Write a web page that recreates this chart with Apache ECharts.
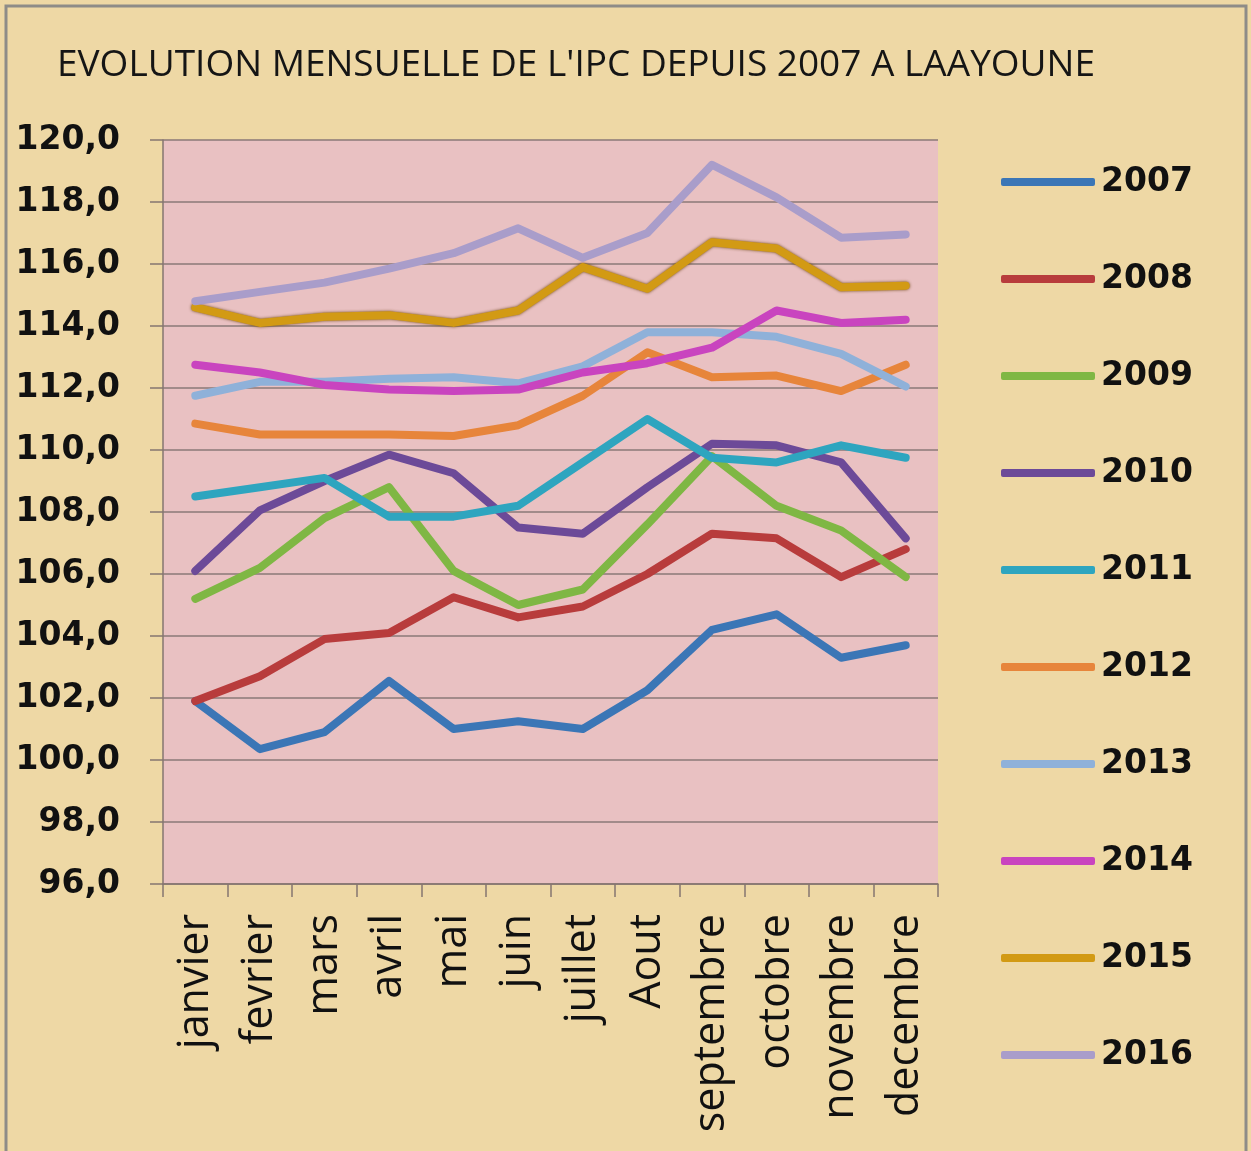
<!DOCTYPE html>
<html>
<head>
<meta charset="utf-8">
<script src="https://cdn.jsdelivr.net/npm/echarts@6/dist/echarts.min.js"></script>
<style>
  html, body { margin: 0; padding: 0; background: #eed8a5; }
  #main { width: 1251px; height: 1151px; }
</style>
</head>
<body>
<div id="main"></div>
<script>
// mois (axe X)
const mois = ['janvier', 'fevrier', 'mars', 'avril', 'mai', 'juin', 'juillet', 'Aout', 'septembre', 'octobre', 'novembre', 'decembre'];

// IPC mensuel par année
const ipc2007 = [101.9, 100.35, 100.9, 102.55, 101.0, 101.25, 101.0, 102.25, 104.2, 104.7, 103.3, 103.7];
const ipc2008 = [101.9, 102.7, 103.9, 104.1, 105.25, 104.6, 104.95, 106.0, 107.3, 107.15, 105.9, 106.8];
const ipc2009 = [105.2, 106.2, 107.8, 108.8, 106.1, 105.0, 105.5, 107.6, 109.8, 108.2, 107.4, 105.9];
const ipc2010 = [106.1, 108.05, 109.0, 109.85, 109.25, 107.5, 107.3, 108.8, 110.2, 110.15, 109.6, 107.15];
const ipc2011 = [108.5, 108.8, 109.1, 107.85, 107.85, 108.2, 109.6, 111.0, 109.75, 109.6, 110.15, 109.75];
const ipc2012 = [110.85, 110.5, 110.5, 110.5, 110.45, 110.8, 111.75, 113.15, 112.35, 112.4, 111.9, 112.75];
const ipc2013 = [111.75, 112.2, 112.2, 112.3, 112.35, 112.15, 112.7, 113.8, 113.8, 113.65, 113.1, 112.05];
const ipc2014 = [112.75, 112.5, 112.1, 111.95, 111.9, 111.95, 112.5, 112.8, 113.3, 114.5, 114.1, 114.2];
const ipc2015 = [114.6, 114.1, 114.3, 114.35, 114.1, 114.5, 115.9, 115.2, 116.7, 116.5, 115.25, 115.3];
const ipc2016 = [114.8, 115.1, 115.4, 115.85, 116.35, 117.15, 116.2, 117.0, 119.2, 118.15, 116.85, 116.95];

const annees = ['2007', '2008', '2009', '2010', '2011', '2012', '2013', '2014', '2015', '2016'];
const valeurs = [ipc2007, ipc2008, ipc2009, ipc2010, ipc2011, ipc2012, ipc2013, ipc2014, ipc2015, ipc2016];
const couleurs = ['#3b76b6', '#b83c3c', '#7fb744', '#6c4a98', '#2ea5bf', '#e7853b', '#8fb1d9', '#c944bf', '#d29a14', '#a99dca'];

function initChart() {
    const chart = echarts.init(document.getElementById('main'));

    const series = annees.map((a, i) => {
        const s = {
            name: a,
            type: 'line',
            data: valeurs[i],
            symbol: 'none',
            color: couleurs[i],
            lineStyle: { width: 8, color: couleurs[i], cap: 'round', join: 'round' }
        };
        if (a === '2015') {
            // contour sombre de la courbe 2015
            s.lineStyle.shadowColor = 'rgba(100,60,0,0.9)';
            s.lineStyle.shadowBlur = 3;
        }
        return s;
    });

    chart.setOption({
        backgroundColor: '#eed8a5',
        animation: false,
        title: {
            text: "EVOLUTION MENSUELLE DE L'IPC DEPUIS 2007 A LAAYOUNE",
            left: 52,
            top: 42,
            textStyle: { fontFamily: 'Open Sans', fontSize: 37, fontWeight: 'normal', color: '#151515' }
        },
        legend: {
            orient: 'vertical',
            left: 996,
            top: 157,
            icon: 'roundRect',
            itemWidth: 94,
            itemHeight: 8,
            itemGap: 57,
            textStyle: {
                fontFamily: 'DejaVu Sans', fontWeight: 'bold', fontSize: 33,
                color: '#111', lineHeight: 40, padding: [0, 0, 0, 1]
            },
            data: annees
        },
        grid: {
            left: 163, top: 140, right: 313, bottom: 267,
            show: true,
            backgroundColor: '#e9c1c2',
            borderWidth: 0
        },
        xAxis: {
            type: 'category',
            data: mois,
            boundaryGap: true,
            axisLine: { lineStyle: { color: '#857670', width: 1.5 } },
            axisTick: { show: true, length: 13, lineStyle: { color: '#857670', width: 1.5 } },
            axisLabel: {
                rotate: 90,
                margin: 30,
                interval: 0,
                fontFamily: 'Open Sans',
                fontSize: 43,
                color: '#111'
            }
        },
        yAxis: {
            type: 'value',
            min: 96,
            max: 120,
            interval: 2,
            axisLine: { show: true, lineStyle: { color: '#857670', width: 1.5 } },
            axisTick: { show: true, length: 13, lineStyle: { color: '#857670', width: 1.5 } },
            splitLine: { lineStyle: { color: '#8a7877', width: 1.5 } },
            axisLabel: {
                margin: 43,
                fontFamily: 'DejaVu Sans',
                fontWeight: 'bold',
                fontSize: 33,
                color: '#111',
                formatter: v => v.toFixed(1).replace('.', ',')
            }
        },
        graphic: [{
            type: 'rect',
            shape: { x: 6, y: 6, width: 1240, height: 1150 },
            style: { fill: 'none', stroke: '#8e8c88', lineWidth: 3 },
            silent: true
        }],
        series: series
    });
}

document.addEventListener('DOMContentLoaded', initChart);
</script>
</body>
</html>
